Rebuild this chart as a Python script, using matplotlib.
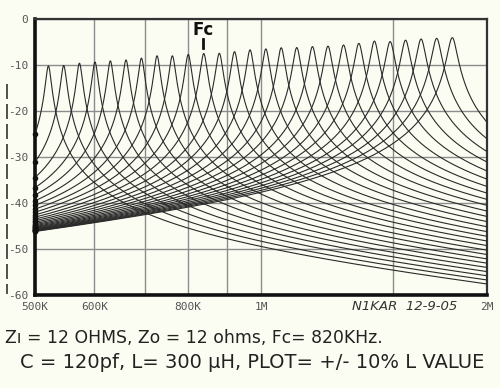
import numpy as np
import matplotlib.pyplot as plt
from matplotlib.lines import Line2D

# circuit values written under the plot
z_in = 12.0          # ohms
z_out = 12.0         # ohms
cap = 120e-12        # farads

# peak of each curve (L stepped 10%)
peak_khz = [521, 546, 573, 601, 630, 661, 693, 727, 762, 800, 839, 880, 922, 967,
            1015, 1064, 1116, 1171, 1228, 1288, 1350, 1416, 1486, 1558, 1634, 1714, 1798]
peak_db = [-10.2, -10.1, -9.6, -9.35, -9.1, -8.9, -8.5, -8.0, -8.0, -7.7, -7.5, -7.45, -7.1, -6.7,
           -6.5, -6.25, -6.2, -6.0, -5.9, -5.65, -5.3, -4.8, -4.9, -4.6, -4.35, -4.2, -4.05]

xticks = [500e3, 600e3, 700e3, 800e3, 900e3, 1e6, 1.5e6, 2e6]
xlabels = ['500K', '600K', '', '800K', '', '1M', '', '2M']
yticks = [0, -10, -20, -30, -40, -50, -60]

bg = '#fcfdf2'
fig = plt.figure(figsize=(5, 3.88), dpi=100, facecolor=bg)
ax = fig.add_axes([0.07, 0.2397, 0.904, 0.7113], facecolor=bg)

f = np.geomspace(500e3, 2e6, 1500)
w = 2 * np.pi * f
for fk, pk in zip(peak_khz, peak_db):
    L = 1.0 / ((2 * np.pi * fk * 1e3) ** 2 * cap)
    rt = z_out / 10 ** (pk / 20.0)          # total series R giving that peak
    x = w * L - 1.0 / (w * cap)
    db = 20 * np.log10(z_out / np.sqrt(rt ** 2 + x ** 2))
    ax.plot(f, db, color='#2a2a2a', lw=0.8, zorder=3)
    ax.plot(f[0], db[0], 'o', ms=3, color='#111', zorder=4, clip_on=False)

ax.set_xscale('log')
ax.set_xlim(500e3, 2e6)
ax.set_ylim(-60, 0)
ax.set_xticks(xticks)
ax.set_xticklabels(xlabels)
ax.xaxis.set_minor_locator(plt.NullLocator())
ax.set_yticks(yticks)
ax.set_yticklabels([str(v) for v in yticks])
ax.grid(True, color='#8c8c8c', lw=1.0, zorder=1)
ax.tick_params(length=0, labelsize=8, labelcolor='#555', pad=5)
for lab in ax.get_xticklabels() + ax.get_yticklabels():
    lab.set_family('DejaVu Sans Mono')
for s in ['left', 'bottom']:
    ax.spines[s].set_linewidth(2.6)
    ax.spines[s].set_color('#111')
for s in ['top', 'right']:
    ax.spines[s].set_linewidth(1.6)
    ax.spines[s].set_color('#333')

# Fc marker above the centre curve
ax.text(838e3, -2.3, 'Fc', ha='center', va='center', fontsize=12, color='#111',
        fontweight='bold')
ax.plot([838e3, 838e3], [-4.3, -6.3], color='#111', lw=2, zorder=4)

# hand drawn dashed line by the y labels
fig.add_artist(Line2D([7 / 500, 7 / 500], [1 - 84 / 388, 1 - 294 / 388], color='#333',
                      lw=1.2, ls=(0, (9, 3))))

# handwriting
fig.text(352 / 500, 1 - 306 / 388, 'N1KAR  12-9-05', fontsize=9.5, style='italic',
         color='#333', va='center', ha='left')
fig.text(5 / 500, 1 - 338 / 388, 'Zı = 12 OHMS, Zo = 12 ohms, Fc= 820KHz.',
         fontsize=12.4, color='#222', va='center', ha='left')
fig.text(20 / 500, 1 - 363 / 388, 'C = 120pf, L= 300 µH, PLOT= +/- 10% L VALUE',
         fontsize=14, color='#222', va='center', ha='left')

fig.savefig('out.png', dpi=100, facecolor=bg)
